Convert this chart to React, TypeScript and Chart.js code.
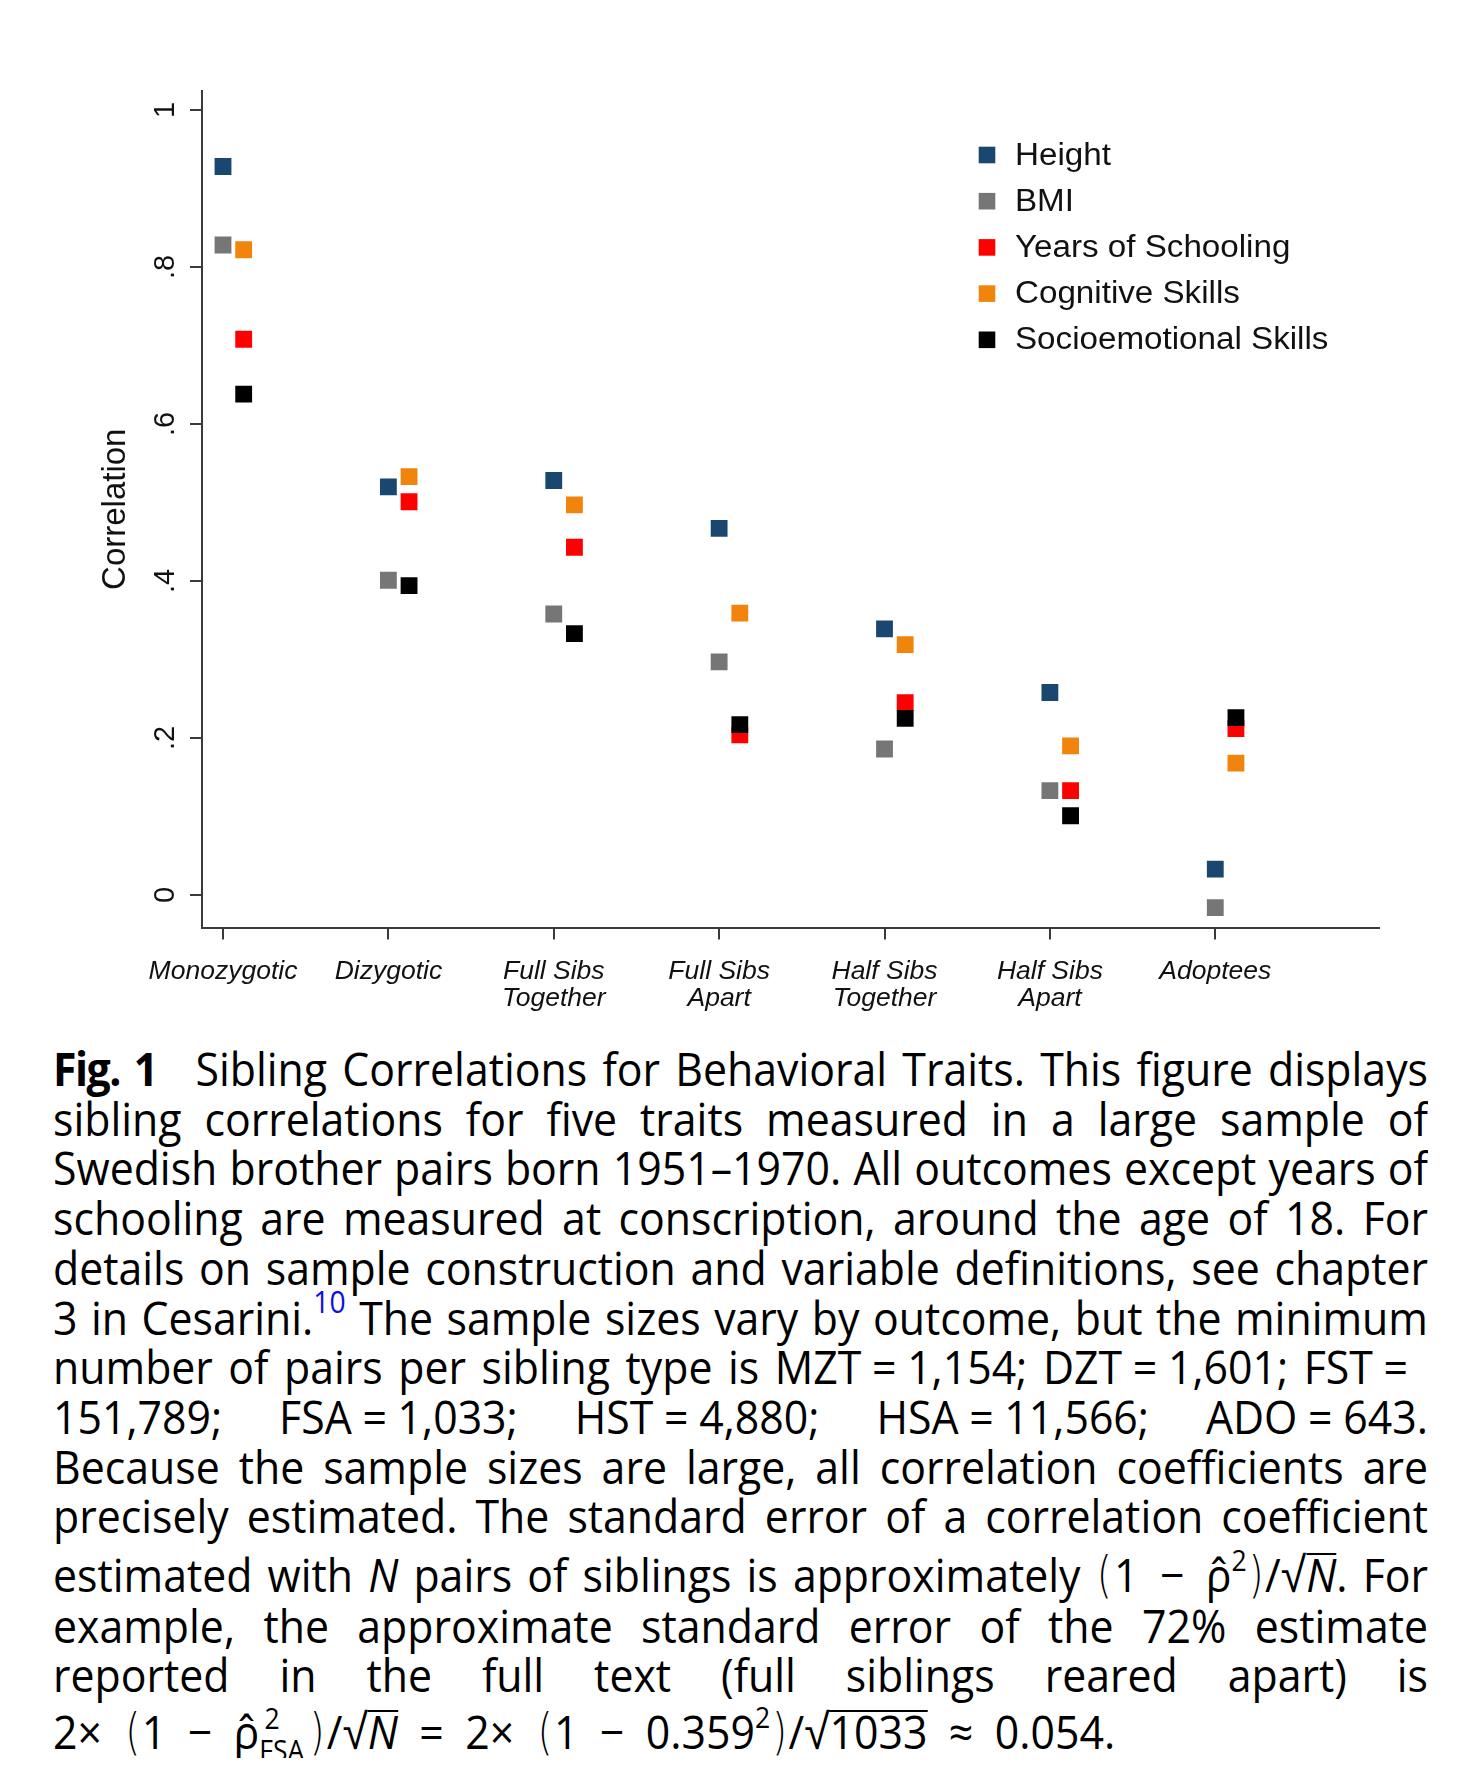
import React, { useEffect, useRef, useMemo } from 'react';
import { Chart, registerables } from 'chart.js';

Chart.register(...registerables);

// ---------------- data ----------------
const categories: string[][] = [
  ['Monozygotic'],
  ['Dizygotic'],
  ['Full Sibs', 'Together'],
  ['Full Sibs', 'Apart'],
  ['Half Sibs', 'Together'],
  ['Half Sibs', 'Apart'],
  ['Adoptees'],
];

const seriesNames = ['Height', 'BMI', 'Years of Schooling', 'Cognitive Skills', 'Socioemotional Skills'];

const height = [0.928, 0.52, 0.528, 0.467, 0.339, 0.258, 0.033];
const bmi = [0.828, 0.401, 0.358, 0.297, 0.186, 0.133, -0.016];
const schooling = [0.708, 0.501, 0.443, 0.204, 0.245, 0.133, 0.212];
const cognitive = [0.822, 0.533, 0.497, 0.359, 0.319, 0.19, 0.168];
const socioemotional = [0.638, 0.394, 0.333, 0.217, 0.225, 0.101, 0.226];

const seriesValues = [height, bmi, schooling, cognitive, socioemotional];
// horizontal shift (in category units) of each series relative to its category
const seriesShift = [0, 0, 0.125, 0.125, 0.125];
const seriesColors = ['#1a476f', '#767676', '#ff0000', '#f0840c', '#000000'];

const yTickValues = [0, 0.2, 0.4, 0.6, 0.8, 1];
const yTickLabels = ['0', '.2', '.4', '.6', '.8', '1'];

// ---------------- chart ----------------
const AXIS_COLOR = '#3a3a3a';
const TEXT_COLOR = '#111111';

const legendPlugin = {
  id: 'insetLegend',
  afterDraw(chart: any) {
    const ctx = chart.ctx as CanvasRenderingContext2D;
    const markerX = 979;
    const textX = 1007;
    const top = 147;
    const gap = 46.2;
    const side = 16.6;
    ctx.save();
    chart.data.datasets.forEach((ds: any, i: number) => {
      const cy = top + i * gap;
      ctx.fillStyle = ds.backgroundColor;
      ctx.fillRect(markerX - side / 2, cy - side / 2, side, side);
      ctx.save();
      ctx.translate(textX, cy + 1);
      ctx.scale(1.07, 1);
      ctx.fillStyle = TEXT_COLOR;
      ctx.font = '31px "Liberation Sans", Arial, sans-serif';
      ctx.textBaseline = 'middle';
      ctx.textAlign = 'left';
      ctx.fillText(ds.label, 0, 0);
      ctx.restore();
    });
    ctx.restore();
  },
};

function ScatterChart() {
  const canvasRef = useRef<HTMLCanvasElement | null>(null);

  useEffect(() => {
    if (!canvasRef.current) return;
    Chart.defaults.font.family = '"Liberation Sans", Arial, sans-serif';
    const datasets = seriesNames.map((name, s) => ({
      label: name,
      data: seriesValues[s].map((v, i) => ({ x: i + seriesShift[s], y: v })),
      backgroundColor: seriesColors[s],
      borderColor: seriesColors[s],
      borderWidth: 0,
      pointStyle: 'rect' as const,
      pointRadius: 11.9,
      pointHoverRadius: 11.9,
      order: seriesNames.length - s,
    }));

    const chart = new Chart(canvasRef.current, {
      type: 'scatter',
      data: { datasets },
      plugins: [legendPlugin],
      options: {
        animation: false,
        responsive: true,
        maintainAspectRatio: false,
        layout: { padding: { top: 83, right: 93, bottom: 0, left: 0 } },
        plugins: {
          legend: { display: false },
          tooltip: { enabled: false },
        },
        scales: {
          x: {
            type: 'linear',
            min: -0.127,
            max: 6.99,
            afterBuildTicks: (scale: any) => {
              scale.ticks = categories.map((_, i) => ({ value: i }));
            },
            afterFit: (scale: any) => {
              scale.height = 116.5;
            },
            grid: {
              drawOnChartArea: false,
              drawTicks: true,
              tickLength: 12,
              color: AXIS_COLOR,
              lineWidth: 2,
            },
            border: { display: true, color: AXIS_COLOR, width: 2 },
            ticks: {
              autoSkip: false,
              minRotation: 0,
              maxRotation: 0,
              padding: 19,
              color: TEXT_COLOR,
              font: { size: 26.5, style: 'italic', lineHeight: 1.0 },
              callback: (_v: any, i: number) => categories[i],
            },
          },
          y: {
            type: 'linear',
            min: -0.0414,
            max: 1.0242,
            afterBuildTicks: (scale: any) => {
              scale.ticks = yTickValues.map((v) => ({ value: v }));
            },
            afterFit: (scale: any) => {
              scale.width = 194;
            },
            grid: {
              drawOnChartArea: false,
              drawTicks: true,
              tickLength: 12,
              color: AXIS_COLOR,
              lineWidth: 2,
            },
            border: { display: true, color: AXIS_COLOR, width: 2 },
            ticks: {
              autoSkip: false,
              minRotation: 90,
              maxRotation: 90,
              crossAlign: 'center',
              padding: 12,
              color: TEXT_COLOR,
              font: { size: 29 },
              callback: (_v: any, i: number) => yTickLabels[i],
            },
            title: {
              display: true,
              text: 'Correlation',
              color: TEXT_COLOR,
              font: { size: 33 },
              padding: { top: 88, bottom: 0 },
            },
          },
        },
      } as any,
    });
    return () => chart.destroy();
  }, []);

  return (
    <div style={{ position: 'relative', width: 1464, height: 1036 }}>
      <canvas ref={canvasRef} />
    </div>
  );
}

// ---------------- caption ----------------
const CAP_W = 1375;
const CAP_FONT = 46;
const CAP_LH = 49.7;

const captionPlain = [
  'Fig. 1  Sibling Correlations for Behavioral Traits. This figure displays',
  'sibling correlations for five traits measured in a large sample of',
  'Swedish brother pairs born 1951\u20131970. All outcomes except years of',
  'schooling are measured at conscription, around the age of 18. For',
  'details on sample construction and variable definitions, see chapter',
  '3 in Cesarini.10 The sample sizes vary by outcome, but the minimum',
  'precisely estimated. The standard error of a correlation coefficient',
];

const EQ = '\u2005=\u2005';
const OP = '\u2002';

const supStyle: React.CSSProperties = { fontSize: '0.62em', lineHeight: 0, verticalAlign: '0.72em' };
const paren: React.CSSProperties = {
  fontFamily: '"DejaVu Sans", sans-serif',
  fontWeight: 200,
  fontSize: '1.1em',
  display: 'inline-block',
  transform: 'scaleX(0.8)',
};

const Rho = () => <span>{'\u03c1\u0302'}</span>;
const Sqrt = ({ children }: { children: React.ReactNode }) => (
  <span>
    <span style={{ fontFamily: '"DejaVu Sans", sans-serif', fontWeight: 300, fontSize: '1.08em' }}>{'\u221a'}</span>
    <span
      style={{
        display: 'inline-block',
        lineHeight: 0.8,
        borderTop: '2px solid #000',
        paddingTop: 1,
      }}
    >
      {children}
    </span>
  </span>
);

const captionLines: React.ReactNode[] = [
  <>
    <b style={{ marginRight: '0.55em', letterSpacing: '-0.035em' }}>Fig. 1</b> Sibling Correlations for Behavioral Traits. This figure displays
  </>,
  <>sibling correlations for five traits measured in a large sample of</>,
  <>Swedish brother pairs born 1951{'\u2013'}1970. All outcomes except years of</>,
  <>schooling are measured at conscription, around the age of 18. For</>,
  <>details on sample construction and variable definitions, see chapter</>,
  <>
    3 in Cesarini.<span style={{ ...supStyle, fontSize: '0.66em', color: '#1010e0' }}>10</span> The sample sizes vary by outcome, but the minimum
  </>,
  <>
    number of pairs per sibling type is MZT{EQ}1,154; DZT{EQ}1,601; FST{'\u2005'}=
  </>,
  <>
    151,789; FSA{EQ}1,033; HST{EQ}4,880; HSA{EQ}11,566; ADO{EQ}643.
  </>,
  <>Because the sample sizes are large, all correlation coefficients are</>,
  <>precisely estimated. The standard error of a correlation coefficient</>,
  <>
    estimated with <i>N</i> pairs of siblings is approximately{' '}
    <span style={{ whiteSpace: 'nowrap' }}>
      <span style={paren}>(</span>1{'\u2002'}{'\u2212'}{'\u2002'}<Rho />
      <span style={supStyle}>2</span>
      <span style={paren}>)</span>/<Sqrt><i>N</i></Sqrt>.
    </span>{' '}
    For
  </>,
  <>example, the approximate standard error of the 72% estimate</>,
  <>reported in the full text (full siblings reared apart) is</>,
  <>
    2{'\u00d7'}{'\u2002'}<span style={paren}>(</span>1{OP}{'\u2212'}{OP}<Rho />
    <span style={{ display: 'inline-block', position: 'relative', width: '1.85em', height: '1em', fontSize: '0.62em' }}>
      <span style={{ position: 'absolute', left: '0.2em', top: '-0.6em', lineHeight: 1 }}>2</span>
      <span style={{ position: 'absolute', left: 0, top: '0.55em', lineHeight: 1 }}>FSA</span>
    </span>
    <span style={paren}>)</span>/<Sqrt><i>N</i></Sqrt>{OP}={OP}2{'\u00d7'}{'\u2002'}<span style={paren}>(</span>1{OP}{'\u2212'}{OP}0.359
    <span style={supStyle}>2</span>
    <span style={paren}>)</span>/<Sqrt>1033</Sqrt>{OP}{'\u2248'}{OP}0.054.
  </>,
];

const lineExtraTop = [0, 0, 0, 0, 0, 0, 0, 0, 0, 0, 9, 0, 0, 7];
const lineRightPad = [0, 0, 0, 0, 0, 0, 20, 0, 0, 0, 0, 0, 0, 0];

function Caption() {
  const s = useMemo(() => {
    const c = document.createElement('canvas').getContext('2d');
    if (!c) return 0.82;
    c.font = `${CAP_FONT}px "Open Sans"`;
    let m = 0;
    captionPlain.forEach((t) => {
      m = Math.max(m, c.measureText(t).width);
    });
    return CAP_W / (m + 10);
  }, []);
  const innerW = CAP_W / s;
  const last = captionLines.length - 1;
  return (
    <div
      style={{
        marginLeft: 45,
        width: CAP_W,
        overflow: 'hidden',
        fontFamily: '"Open Sans", "Noto Sans", sans-serif',
        fontSize: CAP_FONT,
        lineHeight: `${CAP_LH}px`,
        color: '#000',
      }}
    >
      {captionLines.map((node, i) => (
        <div
          key={i}
          style={{
            width: innerW,
            boxSizing: 'border-box',
            paddingRight: lineRightPad[i] / s,
            marginTop: lineExtraTop[i],
            transform: `scaleX(${s})`,
            transformOrigin: 'left top',
            textAlign: i === last ? 'left' : 'justify',
            textAlignLast: i === last ? 'left' : 'justify',
            whiteSpace: 'normal',
          }}
        >
          {node}
        </div>
      ))}
    </div>
  );
}

export default function App() {
  return (
    <div style={{ width: 1464, background: '#fff' }}>
      <ScatterChart />
      <Caption />
    </div>
  );
}
